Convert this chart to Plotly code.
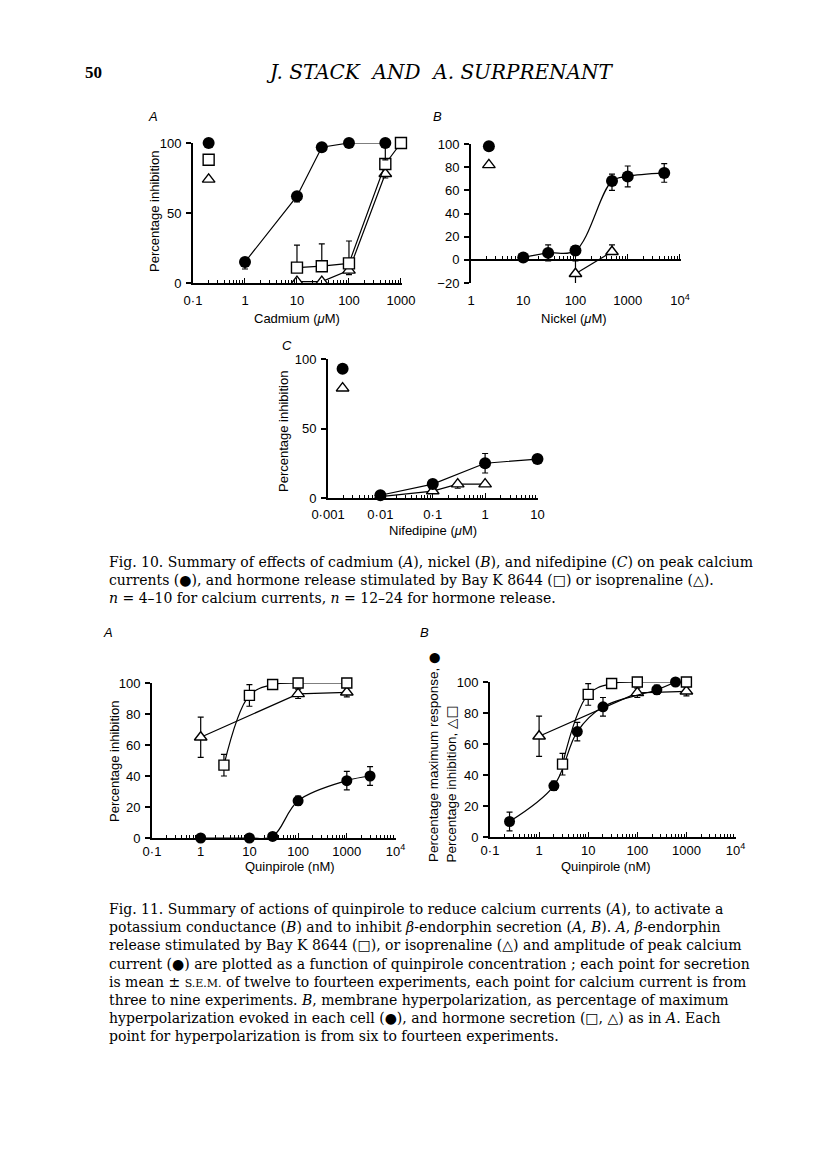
import plotly.graph_objects as go

W, H = 816, 1167
# the page body adds an 8px margin; positions below are page pixels
OFF = 8

# ---------------- Fig. 10A  Cadmium (µM) ----------------
cd_ca_conc = [1, 10, 30, 100, 500]
cd_ca_val = [15, 62, 97, 100, 100]
cd_ca_errp = [0, 0, 0, 0, 0]
cd_ca_errm = [5, 4, 0, 0, 12]
cd_bay_conc = [10, 30, 100, 500, 1000]
cd_bay_val = [11, 12, 14, 85, 100]
cd_bay_errp = [16, 16, 16, 0, 0]
cd_bay_errm = [0, 0, 0, 0, 0]
cd_iso_conc = [10, 30, 100, 500]
cd_iso_val = [1, 1, 9, 78]
cd_iso_errp = [0, 0, 0, 0]
cd_iso_errm = [3, 3, 3, 3]
cd_key_x = 0.2
cd_key_y = [100, 88, 74]

# ---------------- Fig. 10B  Nickel (µM) ----------------
ni_ca_conc = [10, 30, 100, 500, 1000, 5000]
ni_ca_val = [2, 6, 8, 68, 72, 75]
ni_ca_errp = [0, 7, 4, 6, 9, 8]
ni_ca_errm = [0, 7, 4, 8, 9, 8]
ni_iso_conc = [100, 500]
ni_iso_val = [-12, 7]
ni_iso_errp = [11, 6]
ni_iso_errm = [10, 0]
ni_key_x = 2.2
ni_key_y = [98, 82]

# ---------------- Fig. 10C  Nifedipine (µM) ----------------
nf_ca_conc = [0.01, 0.1, 1, 10]
nf_ca_val = [2, 10, 25, 28]
nf_ca_errp = [0, 0, 7, 0]
nf_ca_errm = [0, 0, 7, 0]
nf_iso_conc = [0.01, 0.1, 0.3, 1]
nf_iso_val = [1, 5, 10, 10]
nf_iso_errp = [0, 0, 0, 0]
nf_iso_errm = [0, 0, 3, 0]
nf_key_x = 0.0019
nf_key_y = [93, 79]

# ---------------- Fig. 11  Quinpirole (nM) ----------------
q_bay_conc = [3, 10, 30, 100, 1000]
q_bay_val = [47, 92, 99, 100, 100]
q_bay_err = [7, 7, 0, 0, 0]
q_iso_conc = [1, 100, 1000]
q_iso_val = [65, 93, 94]
q_iso_err = [13, 3, 3]
q_ca_conc = [1, 10, 30, 100, 1000, 3000]
q_ca_val = [0, 0, 1, 24, 37, 40]
q_ca_err = [0, 0, 0, 3, 6, 6]
q_k_conc = [0.25, 2, 6, 20, 250, 600]
q_k_val = [10, 33, 68, 84, 95, 100]
q_k_err = [6, 3, 6, 6, 3, 0]

dec_labels_a = ["0·1", "1", "10", "100", "1000"]
dec_labels_b = ["1", "10", "100", "1000", "10<sup>4</sup>"]
dec_labels_c = ["0·001", "0·01", "0·1", "1", "10"]
dec_labels_q = ["0·1", "1", "10", "100", "1000", "10<sup>4</sup>"]


def px(x):
    return (x - OFF) / W


def py(y):
    return 1 - (y - OFF) / H


def minor_vals(lo, hi):
    out = []
    for e in range(lo, hi):
        for m in range(2, 10):
            out.append(m * 10 ** e)
    return out


TICKFONT = dict(family="Liberation Sans, Arial, sans-serif", size=13, color="black")


def xaxis(x0, x1, rng, vals, text, anchor, lo, hi, standoff):
    return dict(
        type="log", domain=[px(x0), px(x1)], range=rng, anchor=anchor,
        showline=True, linewidth=2, linecolor="black", mirror=False, automargin=False,
        ticks="inside", ticklen=5, tickwidth=1.3, tickcolor="black",
        tickmode="array", tickvals=vals, ticktext=text,
        minor=dict(tickmode="array", tickvals=minor_vals(lo, hi), ticks="inside",
                   ticklen=3, tickwidth=1.2, tickcolor="black", showgrid=False),
        showgrid=False, zeroline=False, tickfont=TICKFONT,
        ticklabelstandoff=standoff,
    )


def yaxis(y0, y1, rng, vals, anchor):
    return dict(
        domain=[py(y1), py(y0)], range=rng, anchor=anchor, automargin=False,
        showline=True, linewidth=2, linecolor="black",
        ticks="outside", ticklen=5, tickwidth=1.5, tickcolor="black",
        tickmode="array", tickvals=vals,
        showgrid=False, zeroline=False, tickfont=TICKFONT, ticklabelstandoff=2,
    )


fig = go.Figure()

LINE = dict(color="black", width=1.2)


def err(p, m):
    return dict(type="data", symmetric=False, array=p, arrayminus=m,
                color="black", thickness=1.2, width=3)


def circ(size):
    return dict(symbol="circle", size=size, color="black", line=dict(color="black", width=0))


def sq(size):
    return dict(symbol="square", size=size, color="white", line=dict(color="black", width=1.4))


def tri(size):
    return dict(symbol="triangle-up", size=size, color="white", line=dict(color="black", width=1.4))


def add(xs, ys, marker, xa, ya, ep=None, em=None, shape="linear", mode="lines+markers"):
    fig.add_trace(go.Scatter(
        x=xs, y=ys, mode=mode, marker=marker, line=dict(LINE, shape=shape),
        error_y=err(ep, em) if ep is not None else None,
        xaxis=xa, yaxis=ya, cliponaxis=False, showlegend=False, hoverinfo="skip",
    ))


# Fig 10A
add(cd_iso_conc, cd_iso_val, tri(11), "x", "y", cd_iso_errp, cd_iso_errm)
add(cd_bay_conc, cd_bay_val, sq(11), "x", "y", cd_bay_errp, cd_bay_errm)
add(cd_ca_conc, cd_ca_val, circ(12), "x", "y", cd_ca_errp, cd_ca_errm)
add([cd_key_x], [cd_key_y[0]], circ(12), "x", "y", mode="markers")
add([cd_key_x], [cd_key_y[1]], sq(11), "x", "y", mode="markers")
add([cd_key_x], [cd_key_y[2]], tri(11), "x", "y", mode="markers")

# Fig 10B (key markers live on the overlaying label axis x6, same scale as x2)
add(ni_iso_conc, ni_iso_val, tri(11), "x2", "y2", ni_iso_errp, ni_iso_errm)
add(ni_ca_conc, ni_ca_val, circ(12), "x2", "y2", ni_ca_errp, ni_ca_errm, shape="spline")
add([ni_key_x], [ni_key_y[0]], circ(12), "x6", "y2", mode="markers")
add([ni_key_x], [ni_key_y[1]], tri(11), "x6", "y2", mode="markers")

# Fig 10C
add(nf_iso_conc, nf_iso_val, tri(11), "x3", "y3", nf_iso_errp, nf_iso_errm)
add(nf_ca_conc, nf_ca_val, circ(12), "x3", "y3", nf_ca_errp, nf_ca_errm)
add([nf_key_x], [nf_key_y[0]], circ(12), "x3", "y3", mode="markers")
add([nf_key_x], [nf_key_y[1]], tri(11), "x3", "y3", mode="markers")

# Fig 11A
add(q_iso_conc, q_iso_val, tri(11), "x4", "y4", q_iso_err, q_iso_err)
add(q_bay_conc, q_bay_val, sq(10), "x4", "y4", q_bay_err, q_bay_err, shape="spline")
add(q_ca_conc, q_ca_val, circ(11), "x4", "y4", q_ca_err, q_ca_err, shape="spline")

# Fig 11B
add(q_iso_conc, q_iso_val, tri(11), "x5", "y5", q_iso_err, q_iso_err)
add(q_k_conc, q_k_val, circ(11), "x5", "y5", q_k_err, q_k_err, shape="spline")
add(q_bay_conc, q_bay_val, sq(10), "x5", "y5", q_bay_err, q_bay_err, shape="spline")

layout = dict(
    template="none",
    width=W, height=H, margin=dict(l=0, r=0, t=0, b=0, pad=0), autosize=False,
    paper_bgcolor="white", plot_bgcolor="white", showlegend=False,
    xaxis=xaxis(193, 402, [-1, 3.02], [0.1, 1, 10, 100, 1000], dec_labels_a, "y", -1, 3, 4),
    yaxis=yaxis(143, 283, [0, 100], [0, 50, 100], "x"),
    xaxis2=dict(xaxis(471, 681, [0, 4.02], [1, 10, 100, 1000, 10000], dec_labels_b, "free", 0, 4, 5),
                position=py(260), showticklabels=False),
    yaxis2=yaxis(144, 283, [-20, 100], [-20, 0, 20, 40, 60, 80, 100], "x2"),
    xaxis6=dict(type="log", range=[0, 4.02], overlaying="x2", anchor="y2", automargin=False,
                showline=False, ticks="", showgrid=False, zeroline=False,
                tickmode="array", tickvals=[1, 10, 100, 1000, 10000], ticktext=dec_labels_b,
                tickfont=TICKFONT, ticklabelstandoff=8),
    xaxis3=xaxis(328, 538, [-3, 1.01], [0.001, 0.01, 0.1, 1, 10], dec_labels_c, "y3", -3, 1, 3),
    yaxis3=yaxis(359, 498, [0, 100], [0, 50, 100], "x3"),
    xaxis4=xaxis(152, 396, [-1, 4.01], [0.1, 1, 10, 100, 1000, 10000], dec_labels_q, "y4", -1, 4, 0),
    yaxis4=yaxis(683, 838, [0, 100], [0, 20, 40, 60, 80, 100], "x4"),
    xaxis5=xaxis(490, 736, [-1, 4.01], [0.1, 1, 10, 100, 1000, 10000], dec_labels_q, "y5", -1, 4, 0),
    yaxis5=yaxis(682, 837, [0, 100], [0, 20, 40, 60, 80, 100], "x5"),
)
fig.update_layout(**layout)

SANS = "Liberation Sans, Arial, sans-serif"
SERIF = "Liberation Serif, Times New Roman, serif"
HEAD = "DejaVu Serif, serif"

ann = []


def text(x, y, s, size=13, family=SANS, xanchor="center", yanchor="middle", angle=0, align="center"):
    ann.append(dict(x=px(x), y=py(y), xref="paper", yref="paper", text=s, showarrow=False,
                    font=dict(family=family, size=size, color="black"),
                    xanchor=xanchor, yanchor=yanchor, textangle=angle, align=align))


# header
text(83, 72, "<b>50</b>", size=17, family=SERIF, xanchor="left")
text(440, 72, "<i>J.\u00a0STACK\u00a0\u00a0AND\u00a0\u00a0A.\u00a0SURPRENANT</i>", size=20, family=HEAD)

# panel letters
text(153, 117, "<i>A</i>", size=13)
text(437, 117, "<i>B</i>", size=13)
text(287, 345, "<i>C</i>", size=13)
text(108, 632, "<i>A</i>", size=13)
text(425, 632, "<i>B</i>", size=13)

# axis titles
text(297, 318, "Cadmium (<i>μ</i>M)", size=13)
text(574, 318, "Nickel (<i>μ</i>M)", size=13)
text(433, 530, "Nifedipine (<i>μ</i>M)", size=13)
text(290, 866, "Quinpirole (nM)", size=13)
text(606, 866, "Quinpirole (nM)", size=13)
text(155, 212, "Percentage inhibition", size=13, angle=-90)
text(284, 432, "Percentage inhibition", size=13, angle=-90)
text(114, 762, "Percentage inhibition", size=13, angle=-90)
text(433, 864, "Percentage maximum response, <span style='font-family:DejaVu Sans'>●</span>",
     size=13.5, angle=-90, yanchor="bottom")
text(450, 864, "Percentage inhibition, <span style='font-family:DejaVu Sans'>△□</span>",
     size=13.5, angle=-90, yanchor="bottom")

# captions
S_CIRC = "●"
S_SQ = "□"
S_TRI = "△"

cap10 = [
    "Fig. 10. Summary of effects of cadmium (<i>A</i>), nickel (<i>B</i>), and nifedipine (<i>C</i>) on peak calcium",
    f"currents ({S_CIRC}), and hormone release stimulated by Bay K 8644 ({S_SQ}) or isoprenaline ({S_TRI}).",
    "<i>n</i> = 4–10 for calcium currents, <i>n</i> = 12–24 for hormone release.",
]
cap11 = [
    "Fig. 11. Summary of actions of quinpirole to reduce calcium currents (<i>A</i>), to activate a",
    "potassium conductance (<i>B</i>) and to inhibit <i>β</i>-endorphin secretion (<i>A</i>, <i>B</i>). <i>A</i>, <i>β</i>-endorphin",
    f"release stimulated by Bay K 8644 ({S_SQ}), or isoprenaline ({S_TRI}) and amplitude of peak calcium",
    f"current ({S_CIRC}) are plotted as a function of quinpirole concentration ; each point for secretion",
    "is mean ± <span style='font-size:11px'>S.E.M.</span> of twelve to fourteen experiments, each point for calcium current is from",
    "three to nine experiments. <i>B</i>, membrane hyperpolarization, as percentage of maximum",
    f"hyperpolarization evoked in each cell ({S_CIRC}), and hormone secretion ({S_SQ}, {S_TRI}) as in <i>A</i>. Each",
    "point for hyperpolarization is from six to fourteen experiments.",
]
CAPFONT = "DejaVu Serif, serif"
text(107, 552, "<br>".join(cap10), size=14, family=CAPFONT, xanchor="left", yanchor="top", align="left")
text(107, 899, "<br>".join(cap11), size=14, family=CAPFONT, xanchor="left", yanchor="top", align="left")

fig.update_layout(annotations=ann)
fig.write_html("out.html")
